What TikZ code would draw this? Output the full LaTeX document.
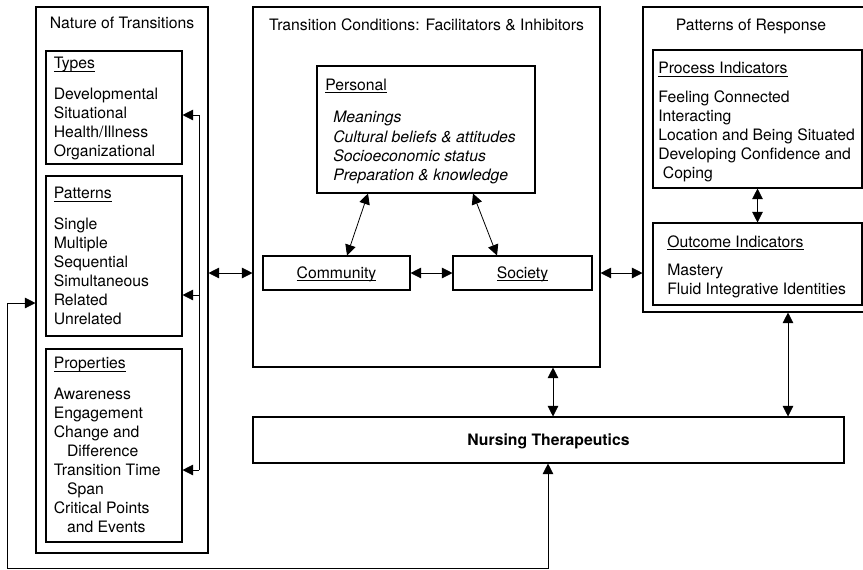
\documentclass[tikz,border=0pt]{standalone}
\usepackage{fontspec}
\setmainfont{TeX Gyre Heros}
\usetikzlibrary{fit,arrows.meta}
\newcommand\undl[1]{\setbox0\hbox{#1}\rlap{\rule[-1.8pt]{\wd0}{0.55pt}}\box0}

\begin{document}
\begin{tikzpicture}[x=0.75pt,y=-0.75pt,
  font=\fontsize{11.8}{14.25}\selectfont,
  box/.style={draw,line width=0.8pt,inner sep=0pt},
  txt/.style={inner sep=0pt,align=left,anchor=north west},
  ttl/.style={inner sep=0pt,anchor=base},
  dbl/.style={{Triangle[length=8pt,width=8pt]}-{Triangle[length=8pt,width=8pt]},line width=0.6pt},
  one/.style={-{Triangle[length=8pt,width=8pt]},line width=0.6pt}]
\useasboundingbox (0,0) rectangle (863,569);

% nature of transitions
\node[box,fit={(36,7) (208,553)}] (nat) {};
\node[ttl] (natT) at (122,28.5) {Nature of Transitions};
\node[box,fit={(46,51) (182,164)}] (types) {};
\node[txt] (typesT) at (53.5,57.2) {\undl{Types}\\[9pt]Developmental\\Situational\\Health/Illness\\Organizational};
\node[box,fit={(46,176) (182,336)}] (patt) {};
\node[txt] (pattT) at (53.5,187.2) {\undl{Patterns}\\[9pt]Single\\Multiple\\Sequential\\Simultaneous\\Related\\Unrelated};
\node[box,fit={(46,349) (182,542)}] (prop) {};
\node[txt] (propT) at (53.5,357.2) {\undl{Properties}\\[9pt]Awareness\\Engagement\\Change and\\\hspace*{10pt}Difference\\Transition Time\\\hspace*{10pt}Span\\Critical Points\\\hspace*{10pt}and Events};

% transition conditions
\node[box,fit={(253,7) (600,367)}] (cond) {};
\node[ttl] (condT) at (426.5,30.5) {Transition Conditions: Facilitators \& Inhibitors};
\node[box,fit={(317,66) (535,193)}] (pers) {};
\node[ttl,anchor=base west] (persT) at (325,90.5) {\undl{Personal}};
\node[txt,font=\fontsize{11.8}{14.5}\selectfont\itshape] (persL) at (333,111.2) {Meanings\\Cultural beliefs \& attitudes\\Socioeconomic status\\Preparation \& knowledge};
\node[box,fit={(263,256) (410,290)}] (comm) {};
\node[ttl] (commT) at (336.5,278.5) {\undl{Community}};
\node[box,fit={(453,256) (592,290)}] (soc) {};
\node[ttl] (socT) at (522.5,278.5) {\undl{Society}};

% patterns of response
\node[box,fit={(643,7) (870,312)}] (resp) {};
\node[ttl] (respT) at (751,30) {Patterns of Response};
\node[box,fit={(653,50) (862,188)}] (proc) {};
\node[txt] (procT) at (658,62.2) {\undl{Process Indicators}\\[7.5pt]Feeling Connected\\Interacting\\Location and Being Situated\\Developing Confidence and\\\hspace*{3.5pt}Coping};
\node[box,fit={(653,223) (862,305)}] (outc) {};
\node[txt] (outcT) at (667,235.2) {\undl{Outcome Indicators}\\[6.75pt]Mastery\\Fluid Integrative Identities};

% nursing therapeutics
\node[box,fit={(253,417) (844,463)}] (nurs) {};
\node[ttl] (nursT) at (548.5,445.5) {\textbf{Nursing Therapeutics}};

% links
\coordinate (br1) at (199,115);
\coordinate (br2) at (199,295);
\coordinate (br3) at (199,470);
\draw[line width=0.6pt] (br1) -- (br3);
\draw[one] (br1) -- (br1 -| types.east);
\draw[one] (br2) -- (br2 -| patt.east);
\draw[one] (br3) -- (br3 -| prop.east);
\draw[dbl] (nat.east |- comm.west) -- (cond.west |- comm.west);
\draw[dbl] (cond.east |- comm.west) -- (resp.west |- comm.west);
\draw[dbl] (comm.east) -- (soc.west);
\draw[dbl] ([xshift=-43.5pt]pers.south) -- ([xshift=7.9pt]comm.north);
\draw[dbl] ([xshift=35.25pt]pers.south) -- ([xshift=-19.1pt]soc.north);
\draw[dbl] (proc.south) -- (outc.north);
\coordinate (cn) at (553,0);
\coordinate (rn) at (788,0);
\draw[dbl] (cond.south -| cn) -- (nurs.north -| cn);
\draw[dbl] (resp.south -| rn) -- (nurs.north -| rn);
\coordinate (fbL) at (7,303);
\coordinate (fbB) at (548,568);
\draw[dbl] (fbL -| nat.west) -- (fbL) |- (fbB) -- (fbB |- nurs.south);
\end{tikzpicture}
\end{document}
